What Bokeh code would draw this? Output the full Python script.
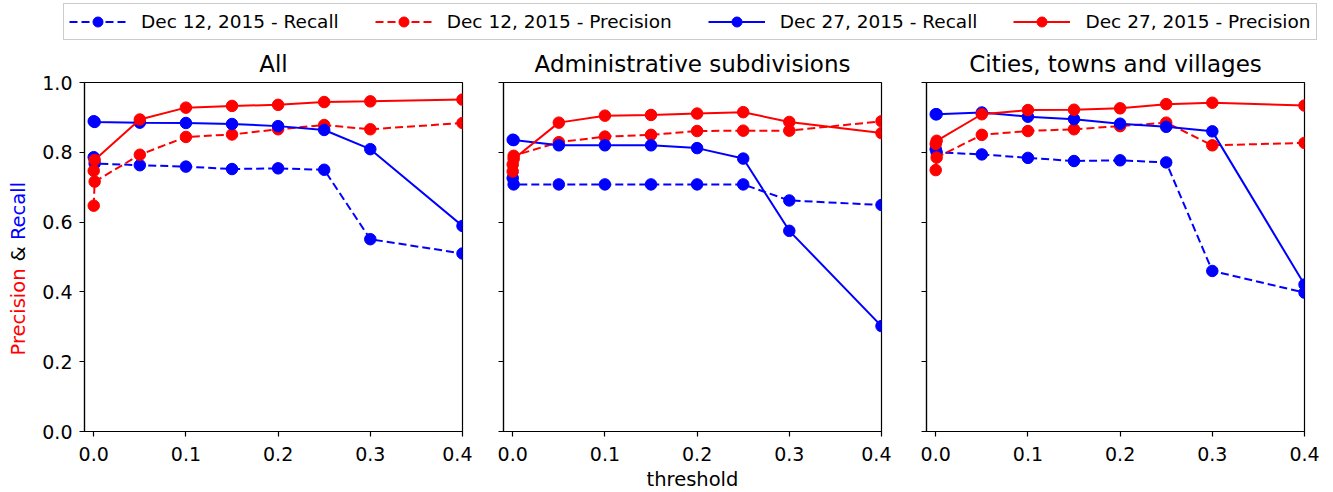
import math
from bokeh.plotting import figure
from bokeh.layouts import column, row
from bokeh.models import (Range1d, FixedTicker, Legend, LegendItem,
                          CustomJSTickFormatter, NumeralTickFormatter)
from bokeh.core.properties import value
from bokeh.embed import file_html
from bokeh.resources import INLINE

# ---------------- data ----------------
thresholds = [0.0, 0.001, 0.05, 0.1, 0.15, 0.2, 0.25, 0.3, 0.4]
panel_titles = ["All", "Administrative subdivisions", "Cities, towns and villages"]
series_labels = ["Dec 12, 2015 - Recall", "Dec 12, 2015 - Precision",
                 "Dec 27, 2015 - Recall", "Dec 27, 2015 - Precision"]
ylabel_words = ["Precision", "&", "Recall"]

all_dec12_recall = [0.786, 0.768, 0.763, 0.759, 0.752, 0.754, 0.750, 0.551, 0.510]
all_dec12_precision = [0.647, 0.716, 0.793, 0.844, 0.851, 0.866, 0.878, 0.866, 0.884]
all_dec27_recall = [0.889, 0.887, 0.885, 0.884, 0.881, 0.875, 0.864, 0.809, 0.589]
all_dec27_precision = [0.747, 0.778, 0.894, 0.928, 0.933, 0.936, 0.944, 0.946, 0.951]

adm_dec12_recall = [0.726, 0.708, 0.708, 0.708, 0.708, 0.708, 0.708, 0.662, 0.649]
adm_dec12_precision = [0.745, 0.790, 0.829, 0.845, 0.850, 0.861, 0.862, 0.862, 0.889]
adm_dec27_recall = [0.836, 0.835, 0.820, 0.820, 0.820, 0.812, 0.782, 0.575, 0.302]
adm_dec27_precision = [0.765, 0.781, 0.885, 0.905, 0.907, 0.911, 0.915, 0.887, 0.855]

city_dec12_recall = [0.809, 0.800, 0.794, 0.784, 0.775, 0.777, 0.771, 0.460, 0.398]
city_dec12_precision = [0.749, 0.785, 0.850, 0.861, 0.866, 0.875, 0.885, 0.820, 0.827]
city_dec27_recall = [0.909, 0.909, 0.914, 0.902, 0.895, 0.882, 0.873, 0.860, 0.421]
city_dec27_precision = [0.824, 0.833, 0.909, 0.921, 0.922, 0.926, 0.938, 0.942, 0.934]

x_ticks = [0.0, 0.1, 0.2, 0.3, 0.4]
y_ticks = [0.0, 0.2, 0.4, 0.6, 0.8, 1.0]

panels_data = [
    [all_dec12_recall, all_dec12_precision, all_dec27_recall, all_dec27_precision],
    [adm_dec12_recall, adm_dec12_precision, adm_dec27_recall, adm_dec27_precision],
    [city_dec12_recall, city_dec12_precision, city_dec27_recall, city_dec27_precision],
]

# ---------------- styles ----------------
FONT = "DejaVu Sans"
BLUE = "#0000ff"
RED = "#ff0000"
series_styles = [(BLUE, "8 4"), (RED, "8 4"), (BLUE, "solid"), (RED, "solid")]
LW = 2
MS = 11.5

FRAME_W = 378
FRAME_H = 349
TOP = 40
BOTTOM = 58
YLAB_W = 36
borders = [(84 - YLAB_W, 10), (31, 10), (35, 20)]


def make_panel(i):
    left, right = borders[i]
    p = figure(frame_width=FRAME_W, frame_height=FRAME_H,
               x_range=Range1d(-0.01, 0.4), y_range=Range1d(0.0, 1.0),
               toolbar_location=None, output_backend="svg",
               min_border_left=left, min_border_right=right,
               min_border_top=TOP, min_border_bottom=BOTTOM,
               background_fill_color="white", border_fill_color="white")
    p.title.text = panel_titles[i]
    p.title.align = "center"
    p.title.text_font = FONT
    p.title.text_font_size = "23px"
    p.title.text_font_style = "normal"
    p.title.text_color = "black"
    p.title.standoff = 11
    p.grid.visible = False
    p.outline_line_color = "black"
    p.outline_line_width = 1.2
    for ax in (p.xaxis[0], p.yaxis[0]):
        ax.axis_line_color = "black"
        ax.axis_line_width = 1.2
        ax.major_tick_line_color = "black"
        ax.major_tick_line_width = 1.2
        ax.major_tick_out = 5
        ax.major_tick_in = 0
        ax.minor_tick_line_color = None
        ax.major_label_text_font = FONT
        ax.major_label_text_font_size = "19px"
        ax.major_label_text_color = "black"
    p.xaxis.major_label_standoff = 10
    p.yaxis.major_label_standoff = 7
    p.xaxis.ticker = FixedTicker(ticks=x_ticks)
    p.yaxis.ticker = FixedTicker(ticks=y_ticks)
    p.xaxis.formatter = NumeralTickFormatter(format="0.0")
    if i == 0:
        p.yaxis.formatter = NumeralTickFormatter(format="0.0")
    else:
        p.yaxis.formatter = CustomJSTickFormatter(code="return ''")
    if i == 1:
        p.xaxis.axis_label = "threshold"
        p.xaxis.axis_label_text_font = FONT
        p.xaxis.axis_label_text_font_size = "19.5px"
        p.xaxis.axis_label_text_font_style = "normal"
        p.xaxis.axis_label_text_color = "black"
        p.xaxis.axis_label_standoff = 4

    for vals, (c, dash) in zip(panels_data[i], series_styles):
        p.line(thresholds, vals, line_color=c, line_width=LW, line_dash=dash)
        p.scatter(thresholds, vals, size=MS, fill_color=c, line_color=c, marker="circle")
    return p


panels = [make_panel(i) for i in range(3)]

# ---------------- multi-coloured y-axis label strip ----------------
ylab = figure(frame_width=YLAB_W, frame_height=FRAME_H,
              x_range=Range1d(0, YLAB_W), y_range=Range1d(0, FRAME_H),
              toolbar_location=None, output_backend="svg",
              x_axis_type=None, y_axis_type=None,
              min_border_left=0, min_border_right=0,
              min_border_top=TOP, min_border_bottom=BOTTOM,
              outline_line_color=None, background_fill_color="white",
              border_fill_color="white")
fs = 19.5
em = {"Precision": 4.502, "&": 0.78, "Recall": 3.029}
space = 0.318 * fs
ypos = 76.0
for word, col in zip(ylabel_words, [RED, "black", BLUE]):
    ylab.text(x=[17.5], y=[ypos], text=[word], angle=math.pi / 2,
              text_align="left", text_baseline="middle",
              text_font=value(FONT), text_font_size=value(f"{fs}px"),
              text_color=col)
    ypos += em[word] * fs + space

# ---------------- legend strip ----------------
leg = figure(frame_width=1324, frame_height=42, x_range=Range1d(10, 11),
             y_range=Range1d(10, 11), toolbar_location=None, output_backend="svg",
             x_axis_type=None, y_axis_type=None, min_border=0,
             outline_line_color=None, background_fill_color="white",
             border_fill_color="white")
items = []
for lbl, vals, (c, dash) in zip(series_labels, panels_data[0], series_styles):
    r1 = leg.line(thresholds, vals, line_color=c, line_width=LW, line_dash=dash)
    r2 = leg.scatter(thresholds, vals, size=MS, fill_color=c, line_color=c, marker="circle")
    items.append(LegendItem(label=lbl, renderers=[r1, r2]))
legend = Legend(items=items, orientation="horizontal", location=(63, 2),
                label_text_font=FONT, label_text_font_size="18.5px",
                label_text_color="black",
                border_line_color="#cccccc", border_line_width=1.2, border_line_alpha=1.0,
                background_fill_color="white", background_fill_alpha=1.0,
                padding=5, spacing=36, glyph_width=57, glyph_height=25,
                label_height=25, label_standoff=15, margin=0)
leg.add_layout(legend)

layout = column(leg, row(ylab, *panels))
open("out.html", "w").write(file_html(layout, INLINE))
